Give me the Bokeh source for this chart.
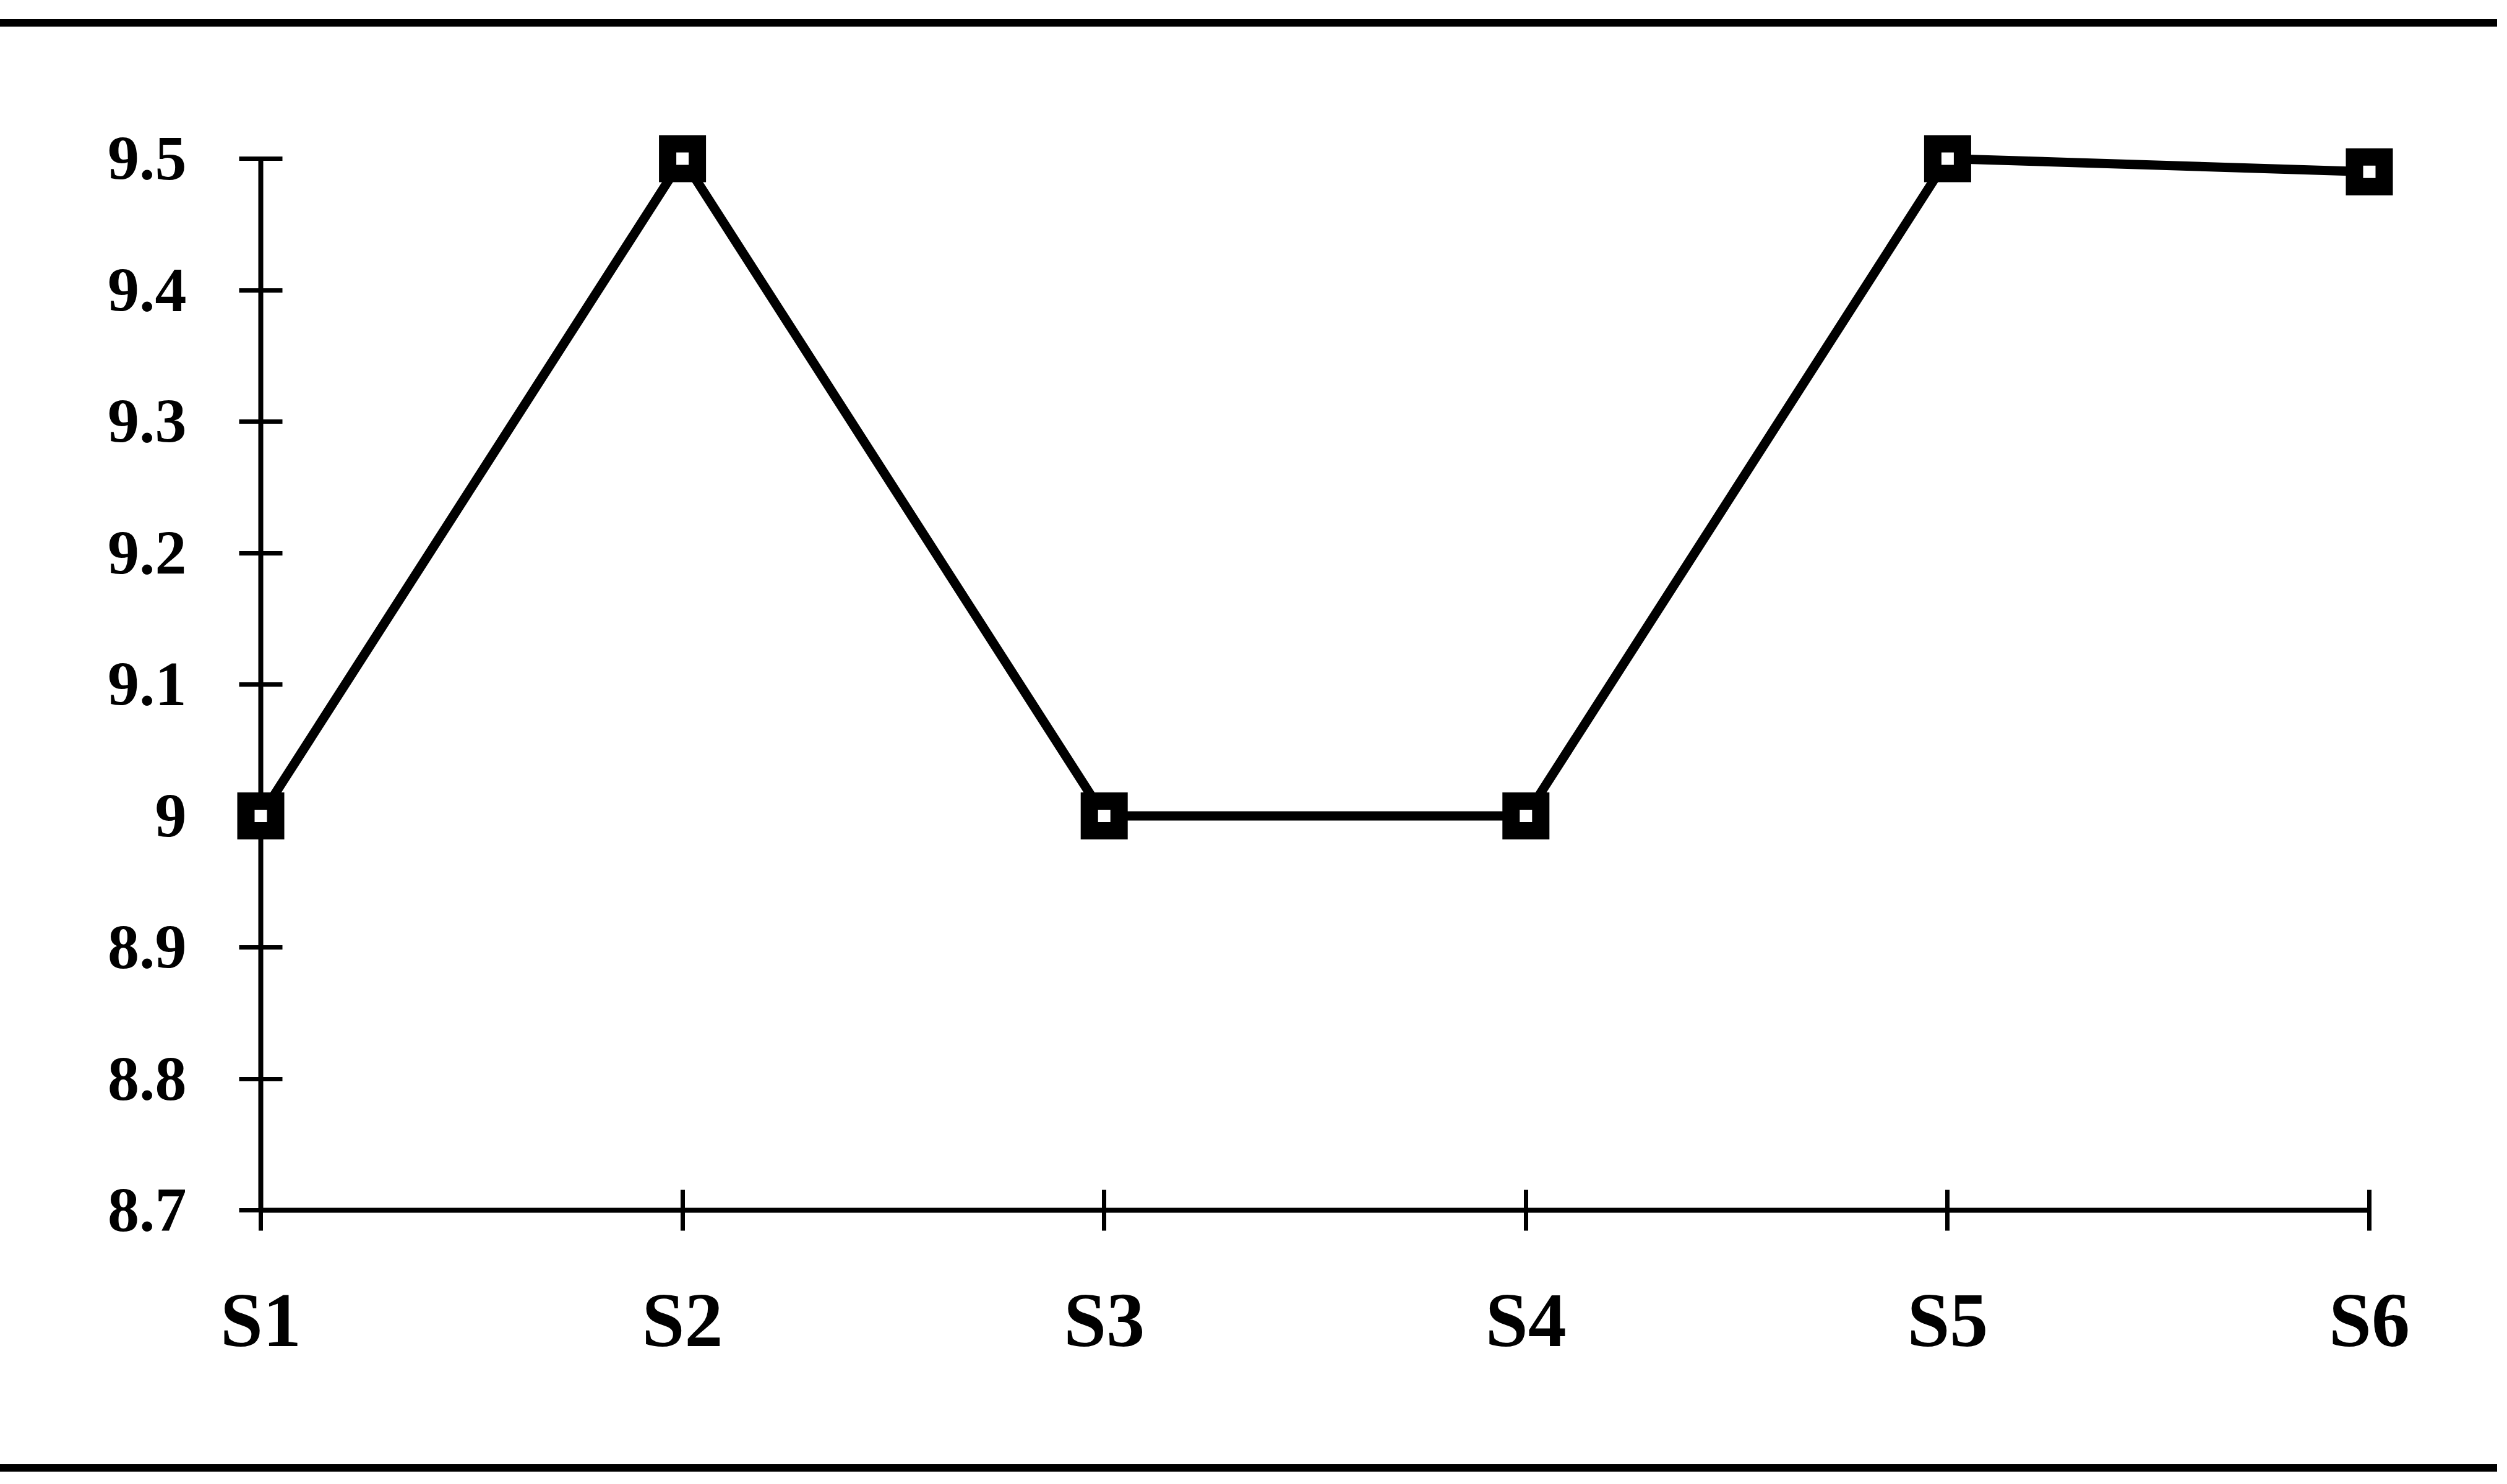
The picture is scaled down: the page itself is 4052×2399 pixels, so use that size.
from bokeh.plotting import figure
from bokeh.models import FixedTicker, NumeralTickFormatter, Range1d, Div, ColumnDataSource
from bokeh.layouts import column
from bokeh.embed import file_html
from bokeh.resources import INLINE

# ---- data ----
categories = ["S1", "S2", "S3", "S4", "S5", "S6"]
values = [9.0, 9.5, 9.0, 9.0, 9.5, 9.49]
y_ticks = [8.7, 8.8, 8.9, 9.0, 9.1, 9.2, 9.3, 9.4, 9.5]

xs = list(range(1, len(categories) + 1))
src = ColumnDataSource(dict(x=xs, y=values, name=categories))

FONT = "Liberation Serif"

p = figure(width=4030, height=2282, output_backend="svg", toolbar_location=None,
           x_range=Range1d(xs[0], xs[-1]), y_range=Range1d(y_ticks[0], y_ticks[-1]),
           min_border_left=421, min_border_right=201, min_border_top=196, min_border_bottom=386)
p.outline_line_color = None
p.grid.visible = False
p.background_fill_color = "white"
p.border_fill_color = "white"

p.line("x", "y", source=src, line_color="black", line_width=15, level="overlay")
p.scatter("x", "y", source=src, marker="square", size=48, fill_color="white",
          line_color="black", line_width=28, line_join="miter", level="overlay")

for ax in (p.xaxis[0], p.yaxis[0]):
    ax.axis_line_width = 8
    ax.axis_line_color = "black"
    ax.major_tick_line_width = 7
    ax.major_tick_line_color = "black"
    ax.minor_tick_line_color = None
    ax.major_label_text_font = FONT
    ax.major_label_text_font_style = "bold"
    ax.major_label_text_color = "black"

p.xaxis.ticker = FixedTicker(ticks=xs)
p.xaxis.major_label_overrides = {x: c for x, c in zip(xs, categories)}
p.xaxis.major_tick_in = 33
p.xaxis.major_tick_out = 33
p.xaxis.major_label_standoff = 76
p.xaxis.major_label_text_font_size = "124px"

p.yaxis.ticker = FixedTicker(ticks=y_ticks)
p.yaxis.formatter = NumeralTickFormatter(format="0.[0]")
p.yaxis.major_tick_in = 35
p.yaxis.major_tick_out = 35
p.yaxis.major_label_standoff = 85
p.yaxis.major_label_text_font_size = "102px"

top_rule = Div(text='<div style="margin-top:31px;height:12px;background:#000;width:4036px"></div>',
               width=4036, height=60, margin=(0, 0, 0, 0))
bottom_rule = Div(text='<div style="margin-top:25px;height:12px;background:#000;width:4036px"></div>',
                  width=4036, height=40, margin=(0, 0, 0, 0))
p.margin = (0, 0, 0, 0)

layout = column(top_rule, p, bottom_rule, spacing=0)

open("out.html", "w").write(file_html(layout, INLINE))
